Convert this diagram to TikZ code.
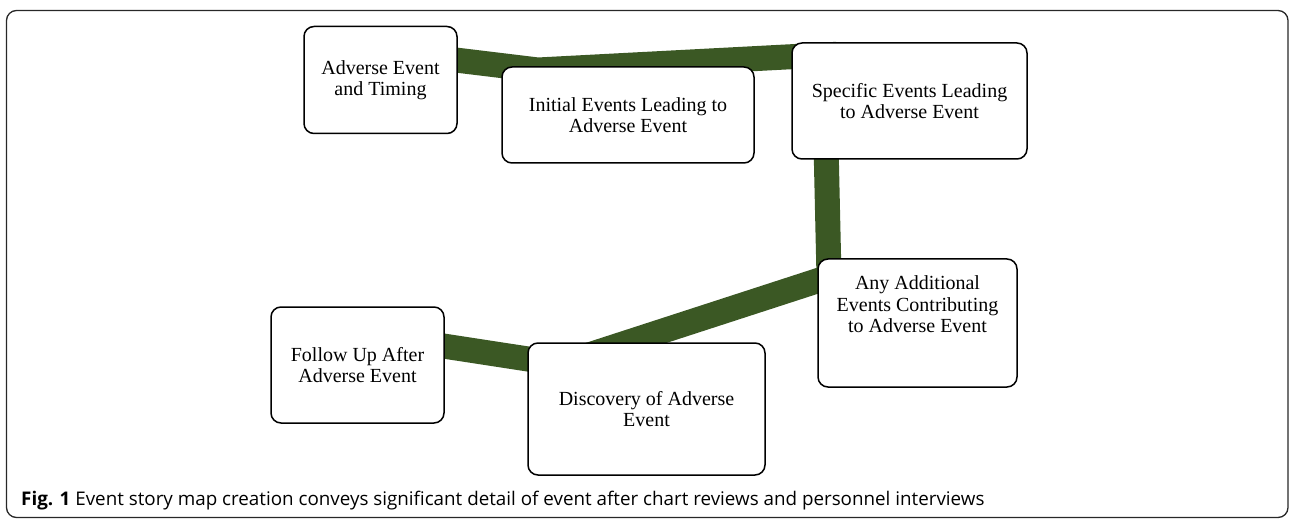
\documentclass[tikz,border=0pt]{standalone}
\usepackage{fontspec}
\setmainfont{Liberation Serif}
\newfontfamily\capfont{Open Sans}
\usetikzlibrary{backgrounds}
\definecolor{storygreen}{RGB}{59,88,36}
\definecolor{framegray}{RGB}{40,40,40}

\begin{document}
\begin{tikzpicture}[x=1pt, y=-1pt,
    box/.style={draw=black, line width=1.5pt, rounded corners=10pt, fill=white,
      align=center, inner sep=0pt, font=\fontsize{20}{21.5}\selectfont},
    storyline/.style={draw=storygreen, line width=25pt}]
  \useasboundingbox (0,0) rectangle (1290,521);
  \draw[framegray, line width=1.3pt, rounded corners=10pt] (6.5,10.5) rectangle (1288,517.5);

  \node[box, minimum width=153pt, minimum height=107pt] (timing) at (380.5,80) {Adverse Event\\and Timing};
  \node[box, minimum width=252pt, minimum height=96pt] (initial) at (628,115) {Initial Events Leading to\\Adverse Event};
  \node[box, minimum width=235pt, minimum height=116pt] (specific) at (909.5,101) {Specific Events Leading\\to Adverse Event};
  \node[box, minimum width=199pt, minimum height=128pt, text depth=37pt] (additional) at (917.5,323) {Any Additional\\Events Contributing\\to Adverse Event};
  \node[box, minimum width=173pt, minimum height=116pt] (followup) at (357.5,365) {Follow Up After\\Adverse Event};
  \node[box, minimum width=237pt, minimum height=132pt] (discovery) at (646.5,409) {Discovery of Adverse\\Event};

  \coordinate (j1) at (538,70);
  \coordinate (j2) at (824,55);
  \coordinate (j3) at (829,277);
  \begin{pgfonlayer}{background}
    \draw[storyline] ([shift={(-27,-23)}]timing.east) -- (j1) -- (j2) -- (j3) -- ([shift={(-76,-48)}]discovery.center);
    \draw[storyline] ([shift={(-34,-24)}]followup.east) -- ([shift={(-86,-45)}]discovery.center);
  \end{pgfonlayer}

  \node[anchor=base west, inner sep=0pt, font=\capfont\fontsize{18.8}{20}\selectfont] (caption) at (21,505)
    {\textbf{Fig. 1} Event story map creation conveys significant detail of event after chart reviews and personnel interviews};
\end{tikzpicture}
\end{document}
